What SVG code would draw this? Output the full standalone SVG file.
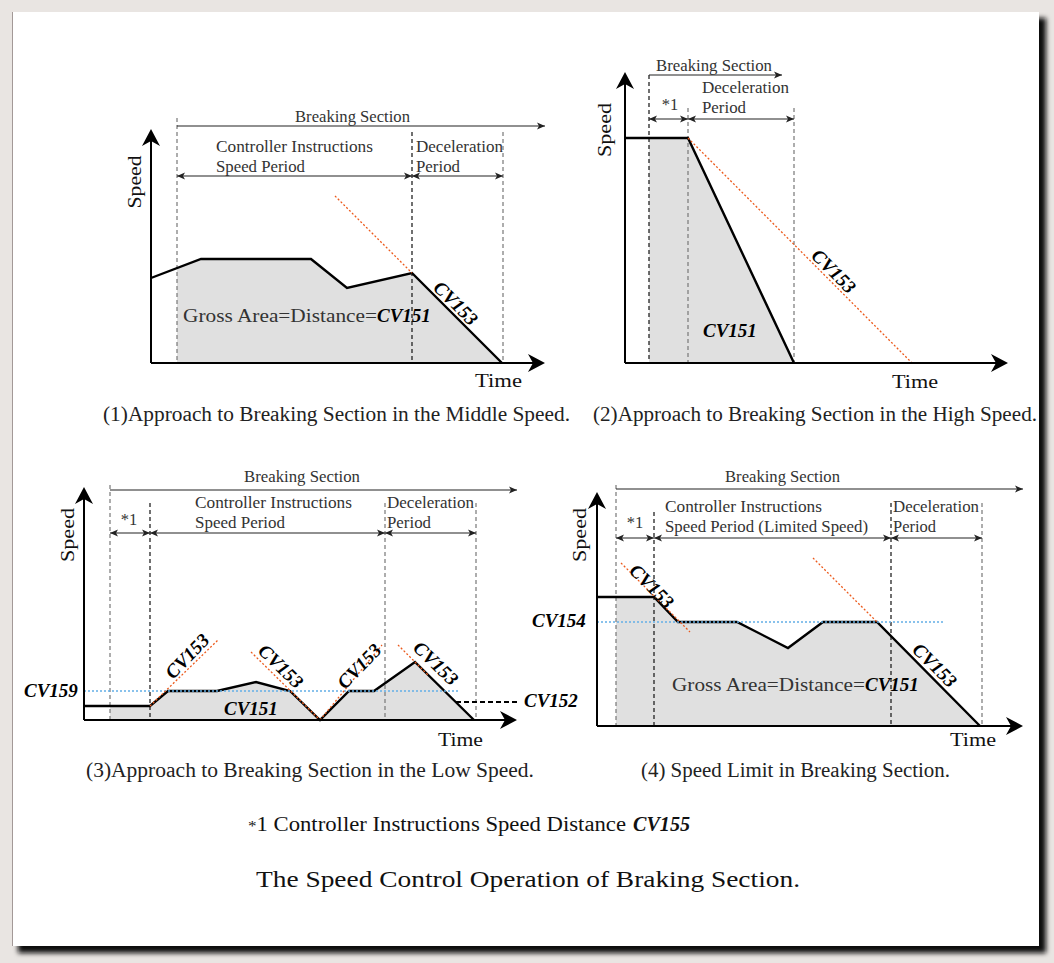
<svg xmlns="http://www.w3.org/2000/svg" width="1054" height="963" viewBox="0 0 1054 963">
<defs>
<filter id="blur" x="-5%" y="-5%" width="110%" height="110%"><feGaussianBlur stdDeviation="2.5"/></filter>
<marker id="ax" viewBox="-18 -10 20 20" refX="-6" refY="0" markerWidth="20" markerHeight="20" markerUnits="userSpaceOnUse" orient="auto"><path d="M0,0 L-17,-9 L-12,0 L-17,9 Z" fill="#000"/></marker>
<marker id="sa" viewBox="-9 -4 10 8" refX="0" refY="0" markerWidth="10" markerHeight="8" markerUnits="userSpaceOnUse" orient="auto-start-reverse"><path d="M0,0 L-8,-3.5 L-6,0 L-8,3.5 Z" fill="#222"/></marker>
<style>
.axis{stroke:#000;stroke-width:2;fill:none}
.prof{stroke:#000;stroke-width:2.4;fill:none;stroke-linejoin:miter}
.fill{fill:#e0e0e0;stroke:none}
.dg{stroke:#777;stroke-width:1.2;stroke-dasharray:4 3;fill:none}
.dk{stroke:#111;stroke-width:1.2;stroke-dasharray:4 3;fill:none}
.or{stroke:#ec5a1c;stroke-width:1.3;stroke-dasharray:2 2;fill:none}
.bl{stroke:#63aee6;stroke-width:1.6;stroke-dasharray:2 2;fill:none}
.arr{stroke:#222;stroke-width:1.1;fill:none;marker-end:url(#sa)}
.dim{stroke:#222;stroke-width:1.1;fill:none;marker-start:url(#sa);marker-end:url(#sa)}
text{font-family:"Liberation Serif","DejaVu Serif",serif}
.lb{font-size:16.5px;fill:#333}
.ax{font-size:19px;fill:#111}
.cv{font-size:19px;font-weight:bold;font-style:italic;fill:#000}
.ga{font-size:19px;fill:#333}
.cap{font-size:20px;fill:#222}
</style>
</defs>
<rect x="0" y="0" width="1054" height="963" fill="#e9e5e2"/>
<rect x="18" y="18" width="1028" height="935" fill="#111" filter="url(#blur)"/>
<rect x="12" y="12" width="1027" height="934" fill="#fff"/>
<line x1="12.5" y1="12" x2="12.5" y2="946" stroke="#a39997" stroke-width="1"/>

<g id="panel1">
<polygon class="fill" points="177,363 177,268 201,259 311,259 347,288 412,273 502,363"/>
<line class="dg" x1="177" y1="118" x2="177" y2="363"/>
<line class="dk" x1="412" y1="132" x2="412" y2="363"/>
<line class="dg" x1="503" y1="132" x2="503" y2="363"/>
<path class="arr" d="M177,126 H545"/>
<path class="dim" d="M177,176 H412"/>
<path class="dim" d="M412,176 H503"/>
<polyline class="prof" points="151,278 201,259 311,259 347,288 412,273 502,363"/>
<line class="or" x1="335" y1="196" x2="412" y2="273"/>
<path class="axis" d="M151,363 V135" marker-end="url(#ax)"/>
<path class="axis" d="M151,363 H539" marker-end="url(#ax)"/>
<text class="lb" x="295" y="122" textLength="115" lengthAdjust="spacingAndGlyphs">Breaking Section</text>
<text class="lb" x="216" y="152" textLength="157" lengthAdjust="spacingAndGlyphs">Controller Instructions</text>
<text class="lb" x="216" y="172" textLength="89" lengthAdjust="spacingAndGlyphs">Speed Period</text>
<text class="lb" x="416" y="152" textLength="87" lengthAdjust="spacingAndGlyphs">Deceleration</text>
<text class="lb" x="416" y="172" textLength="44" lengthAdjust="spacingAndGlyphs">Period</text>
<text class="ga" x="183" y="322"><tspan textLength="194" lengthAdjust="spacingAndGlyphs">Gross Area=Distance=</tspan><tspan class="cv">CV151</tspan></text>
<text class="cv" transform="translate(456,303) rotate(45)" text-anchor="middle" dy="0.35em">CV153</text>
<text class="ax" transform="translate(141,182) rotate(-90)" text-anchor="middle" textLength="53" lengthAdjust="spacingAndGlyphs">Speed</text>
<text class="ax" x="475" y="387" textLength="47" lengthAdjust="spacingAndGlyphs">Time</text>
<text class="cap" x="103" y="421" textLength="467" lengthAdjust="spacingAndGlyphs">(1)Approach to Breaking Section in the Middle Speed.</text>
</g>

<g id="panel2">
<polygon class="fill" points="649,138 688,138 794,363 649,363"/>
<line class="dk" x1="649" y1="75" x2="649" y2="363"/>
<line class="dg" x1="688" y1="108" x2="688" y2="363"/>
<line class="dg" x1="794" y1="108" x2="794" y2="363"/>
<path class="arr" d="M649,75 H782"/>
<path class="dim" d="M649,119 H688"/>
<path class="dim" d="M688,119 H794"/>
<polyline class="prof" points="625,138 688,138 794,363"/>
<line class="or" x1="688" y1="138" x2="912" y2="363"/>
<path class="axis" d="M625,363 V78" marker-end="url(#ax)"/>
<path class="axis" d="M625,363 H1002" marker-end="url(#ax)"/>
<text class="lb" x="656" y="71" textLength="116" lengthAdjust="spacingAndGlyphs">Breaking Section</text>
<text class="lb" x="670" y="110" text-anchor="middle">*1</text>
<text class="lb" x="702" y="93" textLength="87" lengthAdjust="spacingAndGlyphs">Deceleration</text>
<text class="lb" x="702" y="113" textLength="44" lengthAdjust="spacingAndGlyphs">Period</text>
<text class="cv" x="703" y="337">CV151</text>
<text class="cv" transform="translate(834,271) rotate(45)" text-anchor="middle" dy="0.35em">CV153</text>
<text class="ax" transform="translate(611,130) rotate(-90)" text-anchor="middle" textLength="54" lengthAdjust="spacingAndGlyphs">Speed</text>
<text class="ax" x="892" y="388" textLength="46" lengthAdjust="spacingAndGlyphs">Time</text>
<text class="cap" x="593" y="421" textLength="444" lengthAdjust="spacingAndGlyphs">(2)Approach to Breaking Section in the High Speed.</text>
</g>

<g id="panel3">
<polygon class="fill" points="110,720 110,706 150,706 168,691 217,691 256,682 290,691 320,720 349,691 374,691 415,662 474,720"/>
<line class="dg" x1="110" y1="485" x2="110" y2="720"/>
<line class="dk" x1="150" y1="503" x2="150" y2="720"/>
<line class="dg" x1="385" y1="503" x2="385" y2="720"/>
<line class="dg" x1="476" y1="503" x2="476" y2="720"/>
<path class="arr" d="M110,490 H517"/>
<path class="dim" d="M110,533 H150"/>
<path class="dim" d="M150,533 H385"/>
<path class="dim" d="M385,533 H476"/>
<polyline class="prof" points="84,706 150,706 168,691 217,691 256,682 290,691 320,720 349,691 374,691 415,662 474,720"/>
<line class="bl" x1="84" y1="691" x2="458" y2="691"/>
<line x1="456" y1="702" x2="518" y2="702" stroke="#000" stroke-width="2" stroke-dasharray="5 3"/>
<line class="or" x1="150" y1="706" x2="218" y2="640"/>
<line class="or" x1="251" y1="652" x2="320" y2="720"/>
<line class="or" x1="320" y1="720" x2="382" y2="645"/>
<line class="or" x1="398" y1="645" x2="428" y2="675"/>
<path class="axis" d="M84,720 V493" marker-end="url(#ax)"/>
<path class="axis" d="M84,720 H511" marker-end="url(#ax)"/>
<text class="lb" x="244" y="482" textLength="116" lengthAdjust="spacingAndGlyphs">Breaking Section</text>
<text class="lb" x="129" y="525" text-anchor="middle">*1</text>
<text class="lb" x="195" y="508" textLength="157" lengthAdjust="spacingAndGlyphs">Controller Instructions</text>
<text class="lb" x="195" y="528" textLength="90" lengthAdjust="spacingAndGlyphs">Speed Period</text>
<text class="lb" x="387" y="508" textLength="87" lengthAdjust="spacingAndGlyphs">Deceleration</text>
<text class="lb" x="387" y="528" textLength="44" lengthAdjust="spacingAndGlyphs">Period</text>
<text class="cv" x="24" y="697">CV159</text>
<text class="cv" x="524" y="707">CV152</text>
<text class="cv" x="224" y="715">CV151</text>
<text class="cv" transform="translate(187,656) rotate(-46)" text-anchor="middle" dy="0.35em">CV153</text>
<text class="cv" transform="translate(281,666) rotate(44)" text-anchor="middle" dy="0.35em">CV153</text>
<text class="cv" transform="translate(359,666) rotate(-46)" text-anchor="middle" dy="0.35em">CV153</text>
<text class="cv" transform="translate(436,663) rotate(44)" text-anchor="middle" dy="0.35em">CV153</text>
<text class="ax" transform="translate(74,535) rotate(-90)" text-anchor="middle" textLength="54" lengthAdjust="spacingAndGlyphs">Speed</text>
<text class="ax" x="438" y="746" textLength="45" lengthAdjust="spacingAndGlyphs">Time</text>
<text class="cap" x="86" y="777" textLength="448" lengthAdjust="spacingAndGlyphs">(3)Approach to Breaking Section in the Low Speed.</text>
</g>

<g id="panel4">
<polygon class="fill" points="616,726 616,597 654,597 678,622 737,622 788,648 823,622 877,622 980,726"/>
<line class="dg" x1="616" y1="485" x2="616" y2="726"/>
<line class="dk" x1="654" y1="512" x2="654" y2="726"/>
<line class="dk" x1="891" y1="503" x2="891" y2="726"/>
<line class="dg" x1="982" y1="503" x2="982" y2="726"/>
<path class="arr" d="M616,489 H1023"/>
<path class="dim" d="M616,538 H654"/>
<path class="dim" d="M654,538 H891"/>
<path class="dim" d="M891,538 H982"/>
<polyline class="prof" points="597,597 654,597 678,622 737,622 788,648 823,622 877,622 980,726"/>
<line class="bl" x1="597" y1="622" x2="943" y2="622"/>
<line class="or" x1="621" y1="563" x2="690" y2="632"/>
<line class="or" x1="813" y1="558" x2="877" y2="622"/>
<path class="axis" d="M597,726 V498" marker-end="url(#ax)"/>
<path class="axis" d="M597,726 H1017" marker-end="url(#ax)"/>
<text class="lb" x="725" y="482" textLength="115" lengthAdjust="spacingAndGlyphs">Breaking Section</text>
<text class="lb" x="635" y="528" text-anchor="middle">*1</text>
<text class="lb" x="665" y="512" textLength="157" lengthAdjust="spacingAndGlyphs">Controller Instructions</text>
<text class="lb" x="665" y="532" textLength="203" lengthAdjust="spacingAndGlyphs">Speed Period (Limited Speed)</text>
<text class="lb" x="893" y="512" textLength="86" lengthAdjust="spacingAndGlyphs">Deceleration</text>
<text class="lb" x="893" y="532" textLength="43" lengthAdjust="spacingAndGlyphs">Period</text>
<text class="cv" x="532" y="627">CV154</text>
<text class="ga" x="672" y="691"><tspan textLength="193" lengthAdjust="spacingAndGlyphs">Gross Area=Distance=</tspan><tspan class="cv">CV151</tspan></text>
<text class="cv" transform="translate(652,586) rotate(45)" text-anchor="middle" dy="0.35em">CV153</text>
<text class="cv" transform="translate(935,665) rotate(45)" text-anchor="middle" dy="0.35em">CV153</text>
<text class="ax" transform="translate(586,535) rotate(-90)" text-anchor="middle" textLength="54" lengthAdjust="spacingAndGlyphs">Speed</text>
<text class="ax" x="950" y="746" textLength="46" lengthAdjust="spacingAndGlyphs">Time</text>
<text class="cap" x="641" y="777" textLength="309" lengthAdjust="spacingAndGlyphs">(4) Speed Limit in Breaking Section.</text>
</g>

<g id="notes">
<text x="248" y="831" style="font-size:20px;fill:#111" textLength="378" lengthAdjust="spacingAndGlyphs"><tspan style="font-size:15px">*</tspan>1 Controller Instructions Speed Distance</text>
<text x="633" y="831" style="font-size:20px;fill:#111;font-weight:bold;font-style:italic" textLength="57" lengthAdjust="spacingAndGlyphs">CV155</text>
<text x="256" y="887" style="font-size:23px;fill:#111" textLength="544" lengthAdjust="spacingAndGlyphs">The Speed Control Operation of Braking Section.</text>
</g>
</svg>
